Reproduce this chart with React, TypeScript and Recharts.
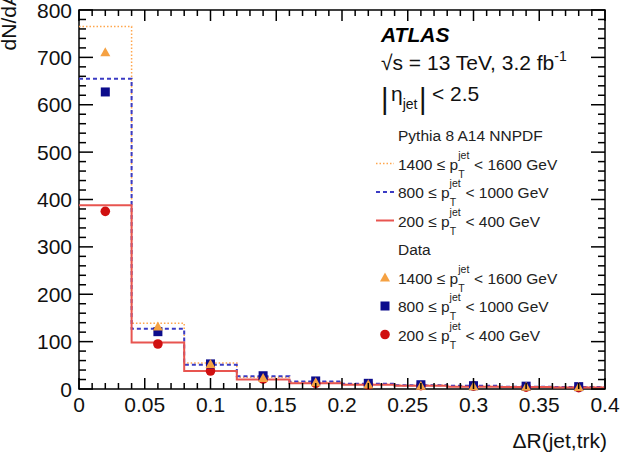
import React from "react";
import { ComposedChart, Line, Scatter, XAxis, YAxis, ReferenceArea } from "recharts";

// bin edges of the ΔR histograms and the bin centres used for the data points
const BIN_EDGES = [0, 0.04, 0.08, 0.12, 0.16, 0.2, 0.24, 0.28, 0.32, 0.36, 0.4];
const BIN_CENTRES = [0.02, 0.06, 0.1, 0.14, 0.18, 0.22, 0.26, 0.3, 0.34, 0.38];

// Pythia 8 A14 NNPDF predictions, dN/dA per bin
const MC_1400 = [765, 139, 55, 25, 15, 10, 8, 6, 5, 4];
const MC_800 = [655, 127, 51, 27, 16, 11, 8, 7, 5, 4];
const MC_200 = [388, 98, 38, 20, 12, 9, 7, 5, 4, 3];

// measured values
const DATA_1400 = [711, 132, 53, 23, 14, 10, 7, 6, 5, 4];
const DATA_800 = [627, 121, 53, 28, 17, 12, 9, 7, 6, 5];
const DATA_200 = [375, 95, 38, 21, 12, 9, 7, 6, 4, 3];

const X_TICKS = [0, 0.05, 0.1, 0.15, 0.2, 0.25, 0.3, 0.35, 0.4];
const X_MINOR = Array.from({ length: 41 }, (_, i) => +(i * 0.01).toFixed(2));
const Y_TICKS = [0, 100, 200, 300, 400, 500, 600, 700, 800];
const Y_MINOR = Array.from({ length: 41 }, (_, i) => i * 20);

const X_DOMAIN: [number, number] = [0, 0.4];
const Y_DOMAIN: [number, number] = [0, 800];

const ORANGE_LINE = "#ffa64d";
const BLUE_LINE = "#3b3bc4";
const RED_LINE = "#e85550";
const ORANGE_MARK = "#f5a142";
const BLUE_MARK = "#0c0c8c";
const RED_MARK = "#d01010";

const FONT = "'Liberation Sans', Arial, Helvetica, sans-serif";

const W = 620;
const H = 456;
const MARGIN = { top: 10, right: 15, bottom: 0, left: 0 };
// frame edges opposite the labelled axes, where the mirrored ticks go
const FRAME_TOP = MARGIN.top;
const FRAME_RIGHT = W - MARGIN.right;

// histogram as a step line: one point per bin edge, last value repeated at the end
const toSteps = (vals: number[]) =>
  BIN_EDGES.map((x, i) => ({ x, y: vals[Math.min(i, vals.length - 1)] }));
const toPoints = (vals: number[]) => BIN_CENTRES.map((x, i) => ({ x, y: vals[i] }));

const STEPS_1400 = toSteps(MC_1400);
const STEPS_800 = toSteps(MC_800);
const STEPS_200 = toSteps(MC_200);

const isMajorX = (v: number) => X_TICKS.includes(v);
const isMajorY = (v: number) => Y_TICKS.includes(v);

// tick renderers: ticks point into the frame on both opposite sides, majors are longer and labelled
const BottomTick = ({ x, y, payload }: any) => {
  const major = isMajorX(payload.value);
  const len = major ? 11 : 6;
  return (
    <g>
      <line x1={x} x2={x} y1={y} y2={y - len} stroke="#000" strokeWidth={1.5} />
      <line x1={x} x2={x} y1={FRAME_TOP} y2={FRAME_TOP + len} stroke="#000" strokeWidth={1.5} />
      {major && (
        <text x={x} y={y + 23} textAnchor="middle" fontSize={21} fill="#111" fontFamily={FONT}>
          {String(payload.value)}
        </text>
      )}
    </g>
  );
};
const LeftTick = ({ x, y, payload }: any) => {
  const major = isMajorY(payload.value);
  const len = major ? 14 : 7;
  return (
    <g>
      <line x1={x} x2={x + len} y1={y} y2={y} stroke="#000" strokeWidth={1.5} />
      <line x1={FRAME_RIGHT} x2={FRAME_RIGHT - len} y1={y} y2={y} stroke="#000" strokeWidth={1.5} />
      {major && (
        <text x={x - 7} y={y + 7.5} textAnchor="end" fontSize={21} fill="#111" fontFamily={FONT}>
          {String(payload.value)}
        </text>
      )}
    </g>
  );
};

const triangle = (p: any) => (
  <polygon
    points={`${p.cx - 5},${p.cy + 4} ${p.cx + 5},${p.cy + 4} ${p.cx},${p.cy - 5}`}
    fill={ORANGE_MARK}
  />
);
const square = (p: any) => (
  <rect x={p.cx - 4.5} y={p.cy - 4.5} width={9} height={9} fill={BLUE_MARK} />
);
const circle = (p: any) => <circle cx={p.cx} cy={p.cy} r={4.8} fill={RED_MARK} />;

const PtLabel = ({ x, y, lo, hi }: { x: number; y: number; lo: string; hi: string }) => (
  <text x={x} y={y} fontSize={15.5} fill="#222" fontFamily={FONT}>
    {`${lo} ≤ p`}
    <tspan dy={-11} fontSize={10.5}>jet</tspan>
    <tspan dx={-11} dy={19} fontSize={10.5}>T</tspan>
    <tspan dx={5} dy={-8}>{` < ${hi} GeV`}</tspan>
  </text>
);

const Annotations = () => {
  const tx = 398;
  const rows = [169.5, 198, 226.5, 255, 283.5, 312, 340.5];
  const sx = 385;
  return (
    <svg
      width={W}
      height={H}
      style={{ position: "absolute", left: 0, top: 0, pointerEvents: "none" }}
    >
      {/* axis titles */}
      <text
        x={16}
        y={-8}
        transform="rotate(-90 16 -8)"
        textAnchor="end"
        fontSize={21}
        fill="#111"
        fontFamily={FONT}
      >
        dN/dA
      </text>
      <text x={607} y={448} textAnchor="end" fontSize={21} fill="#111" fontFamily={FONT}>
        ΔR(jet,trk)
      </text>

      <text x={381} y={42} fontSize={21} fontWeight="bold" fontStyle="italic" fontFamily={FONT}>
        ATLAS
      </text>
      <text x={381} y={70} fontSize={21} fill="#111" fontFamily={FONT}>
        √s = 13 TeV, 3.2 fb
        <tspan dy={-9} fontSize={14}>-1</tspan>
      </text>
      <text x={381} y={109} fontSize={29} fill="#111" fontFamily={FONT}>|</text>
      <text x={391} y={101} fontSize={21} fill="#111" fontFamily={FONT}>
        η
        <tspan dy={8} fontSize={14}>jet</tspan>
      </text>
      <text x={419} y={109} fontSize={29} fill="#111" fontFamily={FONT}>|</text>
      <text x={432} y={101} fontSize={21} fill="#111" fontFamily={FONT}>
        {"< 2.5"}
      </text>

      <text x={tx} y={141} fontSize={15.5} fill="#222" fontFamily={FONT}>
        Pythia 8 A14 NNPDF
      </text>
      <line x1={376} x2={394} y1={rows[0] - 6} y2={rows[0] - 6} stroke={ORANGE_LINE} strokeWidth={1.5} strokeDasharray="1.5 2" />
      <PtLabel x={tx} y={rows[0]} lo="1400" hi="1600" />
      <line x1={376} x2={394} y1={rows[1] - 6} y2={rows[1] - 6} stroke={BLUE_LINE} strokeWidth={2} strokeDasharray="4 3" />
      <PtLabel x={tx} y={rows[1]} lo="800" hi="1000" />
      <line x1={376} x2={394} y1={rows[2] - 6} y2={rows[2] - 6} stroke={RED_LINE} strokeWidth={2} />
      <PtLabel x={tx} y={rows[2]} lo="200" hi="400" />

      <text x={tx} y={rows[3]} fontSize={15.5} fill="#222" fontFamily={FONT}>
        Data
      </text>
      {triangle({ cx: sx, cy: rows[4] - 6 })}
      <PtLabel x={tx} y={rows[4]} lo="1400" hi="1600" />
      {square({ cx: sx, cy: rows[5] - 6 })}
      <PtLabel x={tx} y={rows[5]} lo="800" hi="1000" />
      {circle({ cx: sx, cy: rows[6] - 6 })}
      <PtLabel x={tx} y={rows[6]} lo="200" hi="400" />
    </svg>
  );
};

export default function App() {
  return (
    <div style={{ position: "absolute", left: 0, top: 0, width: W, height: H, background: "#fff" }}>
      <ComposedChart width={W} height={H} margin={MARGIN}>
        <XAxis
          xAxisId="x"
          dataKey="x"
          type="number"
          domain={X_DOMAIN}
          ticks={X_MINOR}
          height={67}
          tickSize={0}
          tickMargin={0}
          tickLine={false}
          axisLine={false}
          tick={BottomTick}
          interval={0}
        />
        <YAxis
          yAxisId="y"
          type="number"
          domain={Y_DOMAIN}
          ticks={Y_MINOR}
          width={79}
          tickSize={0}
          tickMargin={0}
          tickLine={false}
          axisLine={false}
          tick={LeftTick}
          interval={0}
        />

        <ReferenceArea xAxisId="x" yAxisId="y" x1={0} x2={0.4} y1={0} y2={800} fill="none" stroke="#000" strokeWidth={1.5} ifOverflow="visible" />

        <Line xAxisId="x" yAxisId="y" data={STEPS_1400} dataKey="y" type="stepAfter" stroke={ORANGE_LINE} strokeWidth={1.5} strokeDasharray="1.5 2" dot={false} isAnimationActive={false} />
        <Line xAxisId="x" yAxisId="y" data={STEPS_800} dataKey="y" type="stepAfter" stroke={BLUE_LINE} strokeWidth={2} strokeDasharray="4 3" dot={false} isAnimationActive={false} />
        <Line xAxisId="x" yAxisId="y" data={STEPS_200} dataKey="y" type="stepAfter" stroke={RED_LINE} strokeWidth={2} dot={false} isAnimationActive={false} />

        <Scatter xAxisId="x" yAxisId="y" data={toPoints(DATA_200)} dataKey="y" shape={circle} isAnimationActive={false} />
        <Scatter xAxisId="x" yAxisId="y" data={toPoints(DATA_800)} dataKey="y" shape={square} isAnimationActive={false} />
        <Scatter xAxisId="x" yAxisId="y" data={toPoints(DATA_1400)} dataKey="y" shape={triangle} isAnimationActive={false} />
      </ComposedChart>
      <Annotations />
    </div>
  );
}
